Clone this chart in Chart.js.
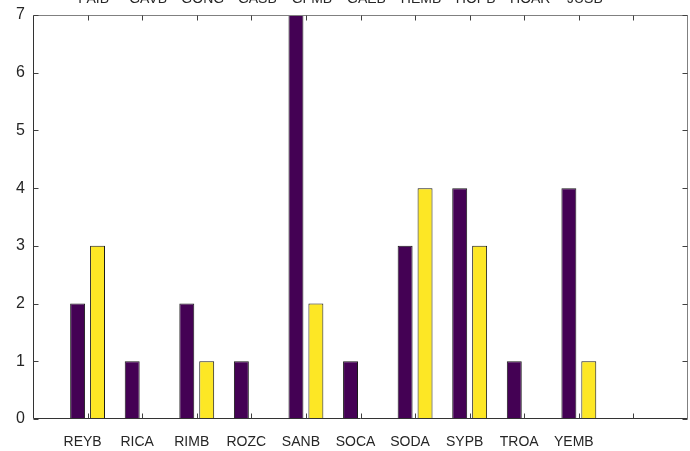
<!DOCTYPE html>
<html>
<head>
<meta charset="utf-8">
<script src="https://cdn.jsdelivr.net/npm/chart.js@4/dist/chart.umd.min.js"></script>
<style>
  html, body { margin: 0; padding: 0; background: #ffffff; overflow: hidden; }
  #wrap { width: 690px; height: 451px; }
</style>
</head>
<body>
<div id="wrap"><canvas id="c" width="690" height="451"></canvas></div>
<script>
// Site codes along the bottom axis (blank slots pad the axis ends)
const categories = ['', 'REYB', 'RICA', 'RIMB', 'ROZC', 'SANB', 'SOCA', 'SODA', 'SYPB', 'TROA', 'YEMB', '', ''];
// Counts per site, two series
const seriesA = [null, 2, 1, 2, 1, 7, 1, 3, 4, 1, 4, null, null];
const seriesB = [null, 3, 0, 1, 0, 2, 0, 4, 3, 0, 1, null, null];
// Labels of the panel above, only their lower edge shows
const upperLabels = ['PAIB', 'GAVB', 'GONG', 'GASB', 'GFMB', 'GAEB', 'HEMB', 'HOPB', 'HOAR', 'JUSB'];
const yTicks = [0, 1, 2, 3, 4, 5, 6, 7];

const TEXT = '#262626';
const FONT = 'Liberation Sans, Arial, sans-serif';

// Box frame with inward tick marks on all four sides, plus the upper panel's labels
const framePlugin = {
  id: 'frame',
  afterDraw(chart) {
    const { ctx, chartArea: a, scales } = chart;
    const x = scales.x, y = scales.y;
    ctx.save();
    ctx.lineWidth = 1;
    const L = Math.round(a.left) + 0.5, R = Math.round(a.right) - 0.5;
    const T = Math.round(a.top) + 0.5, B = Math.round(a.bottom) - 0.5;
    // lighter box edges (top, right)
    ctx.strokeStyle = '#808080';
    ctx.beginPath();
    ctx.moveTo(L, T); ctx.lineTo(R, T); ctx.lineTo(R, B);
    ctx.stroke();
    // axis lines (left, bottom)
    ctx.strokeStyle = '#333333';
    ctx.beginPath();
    ctx.moveTo(L, T); ctx.lineTo(L, B); ctx.lineTo(R, B);
    ctx.stroke();
    const tk = 5;
    ctx.strokeStyle = '#404040';
    ctx.beginPath();
    for (let i = 1; i <= 11; i++) {
      const px = Math.round(x.getPixelForValue(i)) + 0.5;
      ctx.moveTo(px, B); ctx.lineTo(px, B - tk);
      ctx.moveTo(px, T); ctx.lineTo(px, T + tk);
    }
    yTicks.forEach(v => {
      const py = Math.round(y.getPixelForValue(v)) + 0.5;
      ctx.moveTo(L, py); ctx.lineTo(L + tk, py);
      ctx.moveTo(R, py); ctx.lineTo(R - tk, py);
    });
    ctx.stroke();

    ctx.fillStyle = TEXT;
    ctx.font = '14px ' + FONT;
    ctx.textAlign = 'center';
    ctx.textBaseline = 'alphabetic';
    upperLabels.forEach((t, i) => {
      ctx.fillText(t, x.getPixelForValue(i + 1) + 6, 3);
    });
    ctx.restore();
  }
};

new Chart(document.getElementById('c'), {
  type: 'bar',
  data: {
    labels: categories,
    datasets: [
      { data: seriesA, backgroundColor: '#440154', borderColor: '#1a1a1a', borderWidth: 1, borderSkipped: false },
      { data: seriesB, backgroundColor: '#fde725', borderColor: '#1a1a1a', borderWidth: 1, borderSkipped: false }
    ]
  },
  options: {
    responsive: false,
    animation: false,
    devicePixelRatio: 1,
    categoryPercentage: 0.73,
    barPercentage: 0.75,
    layout: { padding: { top: 15, right: 2, left: 0, bottom: 0 } },
    plugins: { legend: { display: false }, tooltip: { enabled: false } },
    scales: {
      x: {
        offset: false,
        grid: { display: false, drawTicks: false },
        border: { display: false },
        ticks: { color: TEXT, font: { family: FONT, size: 14 }, padding: 15, labelOffset: -5, maxRotation: 0, autoSkip: false },
        afterFit(s) { s.height = 32; s.paddingLeft = 0; s.paddingRight = 0; }
      },
      y: {
        min: 0, max: 7,
        grid: { display: false, drawTicks: false },
        border: { display: false },
        ticks: { stepSize: 1, color: TEXT, font: { family: FONT, size: 16 }, padding: 8 },
        afterFit(s) { s.width = 33; s.paddingTop = 0; s.paddingBottom = 0; }
      }
    }
  },
  plugins: [framePlugin]
});
</script>
</body>
</html>
